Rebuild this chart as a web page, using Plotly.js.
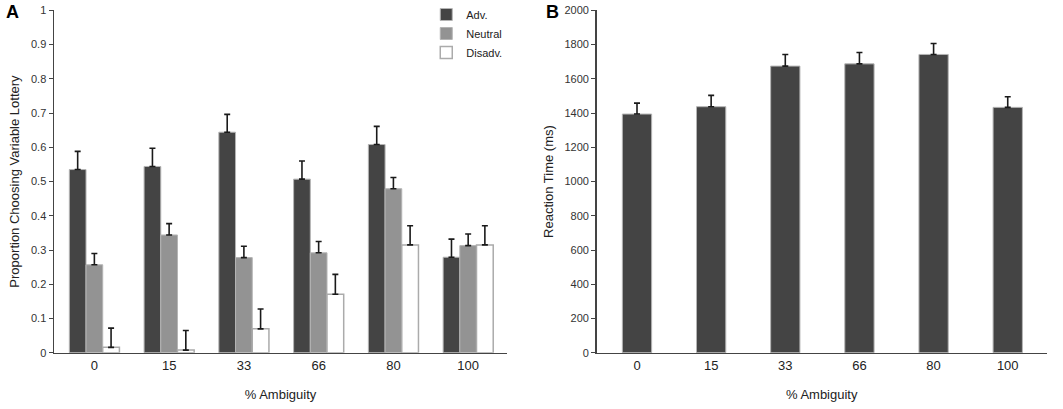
<!DOCTYPE html>
<html>
<head>
<meta charset="utf-8">
<script src="https://cdn.plot.ly/plotly-3.0.1.min.js"></script>
<style>
  html, body { margin: 0; padding: 0; background: #fff; }
  #chart { width: 1063px; height: 409px; }
</style>
</head>
<body>
<div id="chart"></div>
<script>
// categories (% ambiguity)
var ambiguity = ["0", "15", "33", "66", "80", "100"];

// panel A: proportion choosing variable lottery
var advMean = [0.535, 0.544, 0.644, 0.507, 0.608, 0.279];
var advErr = [0.053, 0.053, 0.052, 0.053, 0.053, 0.053];
var neutralMean = [0.257, 0.344, 0.278, 0.292, 0.479, 0.313];
var neutralErr = [0.033, 0.033, 0.033, 0.033, 0.033, 0.034];
var disadvMean = [0.016, 0.008, 0.070, 0.171, 0.315, 0.315];
var disadvErr = [0.056, 0.057, 0.058, 0.058, 0.056, 0.056];

// panel B: reaction time (ms)
var rtMean = [1394, 1437, 1674, 1687, 1742, 1433];
var rtErr = [64, 66, 68, 66, 64, 62];

function zeros(n) {
  var a = [];
  for (var i = 0; i < n; i++) a.push(0);
  return a;
}

// one-sided (upward) error bars
function errUp(arr) {
  return {
    type: "data",
    symmetric: false,
    array: arr,
    arrayminus: zeros(arr.length),
    color: "#1a1a1a",
    thickness: 1.6,
    width: 3
  };
}

var outline = { color: "#b4b4b4", width: 1 };
var fontFam = "Liberation Sans, Arial";

var data = [
  {
    type: "bar", name: "Adv.", x: ambiguity, y: advMean,
    xaxis: "x", yaxis: "y",
    marker: { color: "#444444", line: outline },
    error_y: errUp(advErr)
  },
  {
    type: "bar", name: "Neutral", x: ambiguity, y: neutralMean,
    xaxis: "x", yaxis: "y",
    marker: { color: "#939393", line: outline },
    error_y: errUp(neutralErr)
  },
  {
    type: "bar", name: "Disadv.", x: ambiguity, y: disadvMean,
    xaxis: "x", yaxis: "y",
    marker: { color: "#ffffff", line: { color: "#ababab", width: 1.5 } },
    error_y: errUp(disadvErr)
  },
  {
    type: "bar", name: "RT", x: ambiguity, y: rtMean,
    xaxis: "x2", yaxis: "y2", showlegend: false,
    width: 0.395,
    marker: { color: "#444444", line: outline },
    error_y: errUp(rtErr)
  }
];

var tickFontY = { family: fontFam, size: 11, color: "#333" };
var tickFontX = { family: fontFam, size: 13, color: "#222" };
var titleFont = { family: fontFam, size: 13, color: "#222" };

function xAxis(anchor, domain, range) {
  return {
    anchor: anchor, domain: domain, range: range, type: "category",
    showline: true, linecolor: "#444", linewidth: 1.5,
    ticks: "", showgrid: false, zeroline: false,
    tickfont: tickFontX,
    title: { text: "% Ambiguity", font: titleFont, standoff: 18 }
  };
}

function yAxis(anchor, range, dtick, title) {
  return {
    domain: [0.1377, 0.9773], range: range, anchor: anchor,
    dtick: dtick, showline: true, linecolor: "#444", linewidth: 1.5,
    ticks: "outside", ticklen: 4, tickcolor: "#444", tickwidth: 1,
    showgrid: false, zeroline: false,
    tickfont: tickFontY,
    title: { text: title, font: titleFont, standoff: 8 }
  };
}

var layout = {
  width: 1063, height: 409,
  margin: { l: 0, r: 0, t: 0, b: 0 },
  paper_bgcolor: "#fff", plot_bgcolor: "#fff",
  barmode: "group", bargap: 0.33, bargroupgap: 0,
  showlegend: true,
  legend: {
    x: 0.401, xanchor: "left", y: 1.0017, yanchor: "top",
    font: { family: fontFam, size: 11, color: "#222" },
    bgcolor: "rgba(0,0,0,0)", tracegroupgap: 0
  },
  xaxis: xAxis("y", [0.0508, 0.477], [-0.54, 5.52]),
  yaxis: yAxis("x", [0, 1], 0.1, "Proportion Choosing Variable Lottery"),
  xaxis2: xAxis("y2", [0.5613, 0.9847], [-0.544, 5.526]),
  yaxis2: yAxis("x2", [0, 2000], 200, "Reaction Time (ms)"),
  annotations: [
    { text: "<b>A</b>", xref: "paper", yref: "paper", x: 0.012, y: 0.972,
      xanchor: "center", yanchor: "middle", showarrow: false,
      font: { family: fontFam, size: 18, color: "#000" } },
    { text: "<b>B</b>", xref: "paper", yref: "paper", x: 0.5202, y: 0.972,
      xanchor: "center", yanchor: "middle", showarrow: false,
      font: { family: fontFam, size: 18, color: "#000" } }
  ]
};

Plotly.newPlot("chart", data, layout, { staticPlot: true });
</script>
</body>
</html>
